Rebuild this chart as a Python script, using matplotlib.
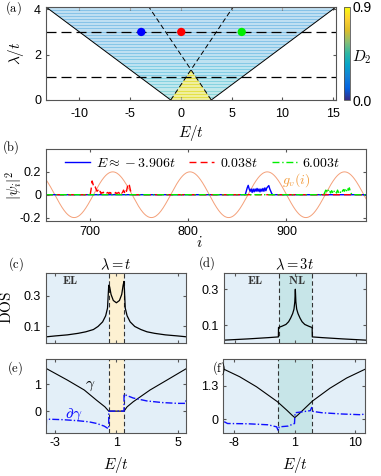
import numpy as np
import matplotlib
matplotlib.use("Agg")
import matplotlib.pyplot as plt
from matplotlib.colors import LinearSegmentedColormap, Normalize
from matplotlib.patches import Polygon
from matplotlib.cm import ScalarMappable

plt.rcParams['font.family'] = ['Liberation Sans', 'DejaVu Sans']
plt.rcParams['mathtext.fontset'] = 'cm'
plt.rcParams['axes.unicode_minus'] = False
plt.rcParams['xtick.direction'] = 'in'
plt.rcParams['ytick.direction'] = 'in'
plt.rcParams['xtick.top'] = True
plt.rcParams['ytick.right'] = True
plt.rcParams['xtick.major.size'] = 2.5
plt.rcParams['ytick.major.size'] = 2.5
plt.rcParams['axes.edgecolor'] = '#555555'
plt.rcParams['axes.linewidth'] = 0.8
plt.rcParams['xtick.color'] = '#555555'
plt.rcParams['ytick.color'] = '#555555'
plt.rcParams['xtick.labelcolor'] = 'black'
plt.rcParams['ytick.labelcolor'] = 'black'
plt.rcParams['xtick.labelsize'] = 9
plt.rcParams['ytick.labelsize'] = 9

# ---- data, panel (a): phase diagram -----
outer_E = [-13.3, -1.0, 3.0, 15.3]       # mobility edges (spectrum boundary)
outer_lam = [4.1, 0.0, 0.0, 4.1]
tri_E = [-1.0, 1.0, 3.0]                  # extended (yellow) triangle
tri_lam = [0.0, 4 / 3, 0.0]
edge1_E = [-1.0, 5.15]                    # dashed inner edges
edge1_lam = [0.0, 4.1]
edge2_E = [3.0, -3.15]
edge2_lam = [0.0, 4.1]
lam_cuts = [1.0, 3.0]
lam_rows = [0.0, 0.5, 1.0, 1.5, 2.0, 2.5, 3.0, 3.5, 4.1]
d2_rows = [0.40, 0.36, 0.32, 0.29, 0.27, 0.26, 0.25, 0.25]
d2_tri = 0.84
dot_E = [-3.906, 0.038, 6.003]
dot_lam = [3.0, 3.0, 3.0]
dot_colors = ['#0000ff', '#ff0000', '#00ee00']

# ---- data, panel (b): wave functions -----
site_range = [655, 981]
blue_start = 858
blue_vals = [0.0, 0.03, 0.06, 0.082, 0.05, 0.03, 0.05, 0.02, 0.05, 0.025, 0.05,
             0.03, 0.055, 0.03, 0.05, 0.025, 0.05, 0.03, 0.055, 0.03, 0.06,
             0.035, 0.06, 0.07, 0.08, 0.05, 0.03, 0.01, 0.0]
red_start = 700
red_vals = [0.0, 0.05, 0.12, 0.09, 0.06, 0.07, 0.05, 0.03, 0.04, 0.015, 0.03,
            0.01, 0.02, 0.015, 0.025, 0.01, 0.02, 0.015, 0.02, 0.01, 0.02,
            0.012, 0.02, 0.01, 0.015, 0.01, 0.02, 0.01, 0.015, 0.02, 0.01,
            0.03, 0.015, 0.02, 0.04, 0.02, 0.05, 0.03, 0.07, 0.1, 0.08, 0.04,
            0.01, 0.0]
green_start = 938
green_vals = [0.0, 0.02, 0.04, 0.03, 0.05, 0.02, 0.03, 0.015, 0.035, 0.02,
              0.04, 0.02, 0.03, 0.015, 0.04, 0.02, 0.035, 0.02, 0.04, 0.03,
              0.045, 0.03, 0.05, 0.03, 0.06, 0.04, 0.06, 0.03, 0.01, 0.0]
g_amp = 0.2
g_period = 78.7
g_peak = 723.0

# ---- data, panels (c)-(f) -----
band_c = [0.5, 1.5]
dos_c_E = [-3.6, -3.0, -2.2, -1.5, -1.0, -0.5, -0.2, 0.1, 0.3, 0.42, 0.5, 0.56,
           0.65, 0.8, 1.0, 1.2, 1.35, 1.44, 1.5, 1.58, 1.7, 1.9, 2.2, 2.6, 3.0,
           3.5, 4.2, 5.0, 5.6]
dos_c = [0.032, 0.038, 0.045, 0.055, 0.065, 0.08, 0.1, 0.13, 0.17, 0.22, 0.37,
         0.36, 0.31, 0.27, 0.255, 0.27, 0.31, 0.37, 0.395, 0.22, 0.17, 0.13, 0.1,
         0.08, 0.065, 0.055, 0.045, 0.038, 0.032]
band_d = [-1.5, 3.5]
dos_d_E = [-9.6, -6.0, -3.0, -1.52, -1.5, -1.0, -0.4, 0.0, 0.3, 0.6, 0.8, 0.92,
           1.0, 1.08, 1.2, 1.4, 1.7, 2.0, 2.4, 3.0, 3.5, 3.52, 5.0, 8.0, 11.5]
dos_d = [0.018, 0.025, 0.032, 0.036, 0.088, 0.095, 0.105, 0.12, 0.14, 0.165,
         0.19, 0.23, 0.30, 0.23, 0.19, 0.165, 0.14, 0.12, 0.105, 0.095, 0.088,
         0.036, 0.032, 0.025, 0.018]
gam_e_E = [-3.6, -2.2, -1.1, -0.3, 0.25, 0.5, 1.5, 1.7, 2.1, 3.2, 4.3, 5.6]
gam_e = [1.6, 1.16, 0.79, 0.41, 0.16, 0.0, 0.0, 0.16, 0.35, 0.79, 1.16, 1.6]
dgam_e_E = [-3.58, -3.57, -2.5, -1.5, -0.8, -0.3, 0.2, 0.45, 0.5, 0.5, 1.5, 1.5,
            1.7, 2.1, 3.0, 4.0, 5.0, 5.5, 5.55]
dgam_e = [-0.55, -0.3, -0.32, -0.36, -0.4, -0.46, -0.56, -0.65, -0.65, 0.0,
          0.0, 0.63, 0.58, 0.49, 0.38, 0.32, 0.29, 0.29, 0.4]
gam_f_E = [-9.6, -7.2, -4.7, -1.6, -0.2, 0.6, 1.0, 1.4, 2.2, 3.6, 6.2, 8.7, 11.5]
gam_f = [1.95, 1.65, 1.26, 0.68, 0.35, 0.15, 0.06, 0.15, 0.35, 0.7, 1.2, 1.6, 1.95]
dgam_f_E = [-9.5, -9.0, -6.0, -3.0, -1.7, -1.5, -1.3, 0.0, 0.95, 1.0, 1.05, 2.0,
            3.3, 3.5, 3.7, 5.0, 8.0, 11.0, 11.3]
dgam_f = [-0.1, -0.17, -0.18, -0.22, -0.3, -0.43, -0.3, -0.27, -0.17, 0.1,
          0.25, 0.28, 0.33, 0.45, 0.3, 0.25, 0.2, 0.17, 0.22]

parula = LinearSegmentedColormap.from_list('parula', [
    (0.2081, 0.1663, 0.5292), (0.0116, 0.3875, 0.8820), (0.0779, 0.5040, 0.8384),
    (0.0232, 0.6407, 0.7925), (0.1802, 0.7178, 0.6425), (0.5301, 0.7456, 0.4600),
    (0.8634, 0.7406, 0.1596), (0.9932, 0.8186, 0.1953), (0.9763, 0.9831, 0.0538)])
norm = Normalize(0.0, 0.9)

W, H = 381, 476
fig = plt.figure(figsize=(W / 100, H / 100), dpi=100)


def px_axes(l, t, r, b):
    return fig.add_axes([l / W, 1 - b / H, (r - l) / W, (b - t) / H])


def panel_label(x, y, s):
    fig.text(x / W, 1 - y / H, r'$\mathrm{(%s)}$' % s, fontsize=9,
             ha='center', va='center')


# ---------------- (a) ----------------
ax = px_axes(46, 7, 336, 100)
poly = Polygon(list(zip(outer_E, outer_lam)), closed=True, fc='none', ec='none')
ax.add_patch(poly)
mesh = ax.pcolormesh([outer_E[0], outer_E[-1]], lam_rows, np.array(d2_rows)[:, None],
                     cmap=parula, norm=norm, alpha=0.5, shading='flat')
mesh.set_clip_path(poly)
tri = Polygon(list(zip(tri_E, tri_lam)), closed=True, fc=parula(norm(d2_tri)),
              ec='none', alpha=0.8)
ax.add_patch(tri)
stripes = ax.hlines(np.arange(0.03, 4.1, 0.065), outer_E[0], outer_E[-1],
                    colors='white', lw=0.4, alpha=0.85)
stripes.set_clip_path(poly)
ax.plot(outer_E[:2], outer_lam[:2], color='k', lw=0.7)
ax.plot(outer_E[2:], outer_lam[2:], color='k', lw=0.7)
ax.plot(edge1_E, edge1_lam, color='k', lw=0.7, dashes=(5, 3))
ax.plot(edge2_E, edge2_lam, color='k', lw=0.7, dashes=(5, 3))
for lam in lam_cuts:
    ax.axhline(lam, color='k', lw=0.9, dashes=(8, 4))
ax.scatter(dot_E, dot_lam, c=dot_colors, s=36, zorder=5, edgecolors='none')
ax.set_xlim(outer_E[0], outer_E[-1])
ax.set_ylim(0, 4.1)
ax.set_xticks([-10, -5, 0, 5, 10, 15])
ax.set_yticks([0, 2, 4])
ax.tick_params(axis='x', pad=6)
ax.set_xlabel(r'$E/t$', fontsize=11)
ax.xaxis.set_label_coords(0.5, -0.25)
ax.set_ylabel(r'$\lambda/t$', fontsize=11)
ax.yaxis.set_label_coords(-0.07, 0.5)
panel_label(13, 8, 'a')

cax = px_axes(344, 7, 350, 100)
cb = fig.colorbar(ScalarMappable(norm=norm, cmap=parula), cax=cax)
cb.set_ticks([0.0, 0.9])
cb.set_ticklabels(['0.0', '0.9'])
cb.ax.tick_params(labelsize=10, length=0, pad=2)
cb.outline.set_edgecolor('#555555')
cb.outline.set_linewidth(0.6)
fig.text(362 / W, 1 - 57 / H, r'$D_2$', fontsize=11, ha='center', va='center')

# ---------------- (b) ----------------
ax = px_axes(46, 149, 366, 221)
sites = np.arange(site_range[0], site_range[1] + 1)
psi = {}
for name, start, vals in [('b', blue_start, blue_vals), ('r', red_start, red_vals),
                          ('g', green_start, green_vals)]:
    arr = np.zeros(sites.size)
    i0 = start - site_range[0]
    arr[i0:i0 + len(vals)] = vals
    psi[name] = arr
i_fine = np.linspace(site_range[0], site_range[1], 800)
ax.plot(i_fine, g_amp * np.cos(2 * np.pi * (i_fine - g_peak) / g_period),
        color='#f4a079', lw=0.7)
ax.plot(sites, psi['b'], color='#0000ff', lw=1.0, label=r'$E\approx-3.906t$')
ax.plot(sites, psi['r'], color='#ff0000', lw=1.0, dashes=(5, 3), label=r'$0.038t$')
ax.plot(sites, psi['g'], color='#00ee00', lw=1.0, dashes=(5, 2, 1, 2),
        label=r'$6.003t$')
ax.text(910, 0.13, r'$g_v(i)$', color='#f29b3c', fontsize=10, ha='center',
        va='center')
ax.set_xlim(site_range)
ax.set_ylim(-0.23, 0.40)
ax.set_xticks([700, 800, 900])
ax.set_yticks([-0.2, 0, 0.2])
ax.set_yticklabels(['-0.2', '0', '0.2'])
ax.set_ylabel(r'$|\psi_i|^2$', fontsize=10.5)
ax.yaxis.set_label_coords(-0.068, 0.5)
ax.set_xlabel(r'$i$', fontsize=11)
ax.xaxis.set_label_coords(0.48, -0.2)
ax.legend(loc='center', bbox_to_anchor=(0.49, 0.81), ncol=3, frameon=False,
          fontsize=10, handlelength=1.8, handletextpad=0.4, columnspacing=1.0)
panel_label(11, 147, 'b')

bg = '#e3eff8'
band_c_col = '#fdf1d2'
band_d_col = '#c7e5e8'


def shade(ax, band, col, xlim):
    ax.set_facecolor(bg)
    ax.axvspan(band[0], band[1], color=col, lw=0)
    for b in band:
        ax.axvline(b, color='#333333', lw=0.8, dashes=(4, 2.5))
    ax.set_xlim(xlim)


xlim_c = (-3.6, 5.55)
xlim_d = (-9.6, 11.5)

# ---------------- (c) ----------------
ax = px_axes(46, 273, 186, 342.5)
shade(ax, band_c, band_c_col, xlim_c)
ax.plot(dos_c_E, dos_c, color='k', lw=0.9)
ax.set_ylim(-0.005, 0.45)
ax.set_yticks([0.1, 0.3])
ax.set_xticks([-3, 1, 5])
ax.set_xticklabels([])
ax.set_title(r'$\lambda = t$', fontsize=10.5, pad=3)
ax.text(-2.0, 0.4, r'$\mathbf{EL}$', fontsize=8.5, ha='center', va='center',
        color='#333333')
ax.set_ylabel(r'$\mathrm{DOS}$', fontsize=11)
ax.yaxis.set_label_coords(-0.23, 0.5)
panel_label(16, 264, 'c')

# ---------------- (d) ----------------
ax = px_axes(224, 273, 366, 342.5)
shade(ax, band_d, band_d_col, xlim_d)
ax.plot(dos_d_E, dos_d, color='k', lw=0.9)
ax.set_ylim(0.005, 0.39)
ax.set_yticks([0.1, 0.3])
ax.set_xticks([-8, 1, 10])
ax.set_xticklabels([])
ax.set_title(r'$\lambda = 3t$', fontsize=10.5, pad=3)
ax.text(-5.0, 0.345, r'$\mathbf{EL}$', fontsize=8.5, ha='center', va='center',
        color='#333333')
ax.text(1.2, 0.345, r'$\mathbf{NL}$', fontsize=8.5, ha='center', va='center',
        color='#333333')
panel_label(207, 263, 'd')

# ---------------- (e) ----------------
ax = px_axes(46, 359, 186, 432.5)
shade(ax, band_c, band_c_col, xlim_c)
ax.plot(gam_e_E, gam_e, color='k', lw=0.8)
ax.plot(dgam_e_E, dgam_e, color='#1010ff', lw=1.0, dashes=(5, 1.5, 1, 1.5))
ax.text(-0.7, 0.95, r'$\gamma$', fontsize=11, ha='center', va='center')
ax.text(-1.8, -0.15, r'$\partial\gamma$', fontsize=11, ha='center', va='center',
        color='#1010ff')
ax.set_ylim(-0.8, 1.95)
ax.set_yticks([0, 1])
ax.set_xticks([-3, 1, 5])
ax.set_xlabel(r'$E/t$', fontsize=11)
ax.xaxis.set_label_coords(0.5, -0.3)
panel_label(15, 368, 'e')

# ---------------- (f) ----------------
ax = px_axes(223.5, 359, 365.5, 432.5)
shade(ax, band_d, band_d_col, xlim_d)
ax.plot(gam_f_E, gam_f, color='k', lw=0.8)
ax.plot(dgam_f_E, dgam_f, color='#1010ff', lw=1.0, dashes=(5, 1.5, 1, 1.5))
ax.set_ylim(-0.52, 2.34)
ax.set_yticks([0, 1.3])
ax.set_yticklabels(['0', '1.3'])
ax.set_xticks([-8, 1, 10])
ax.set_xlabel(r'$E/t$', fontsize=11)
ax.xaxis.set_label_coords(0.5, -0.3)
panel_label(219, 368, 'f')

fig.savefig('out.png', dpi=100)
